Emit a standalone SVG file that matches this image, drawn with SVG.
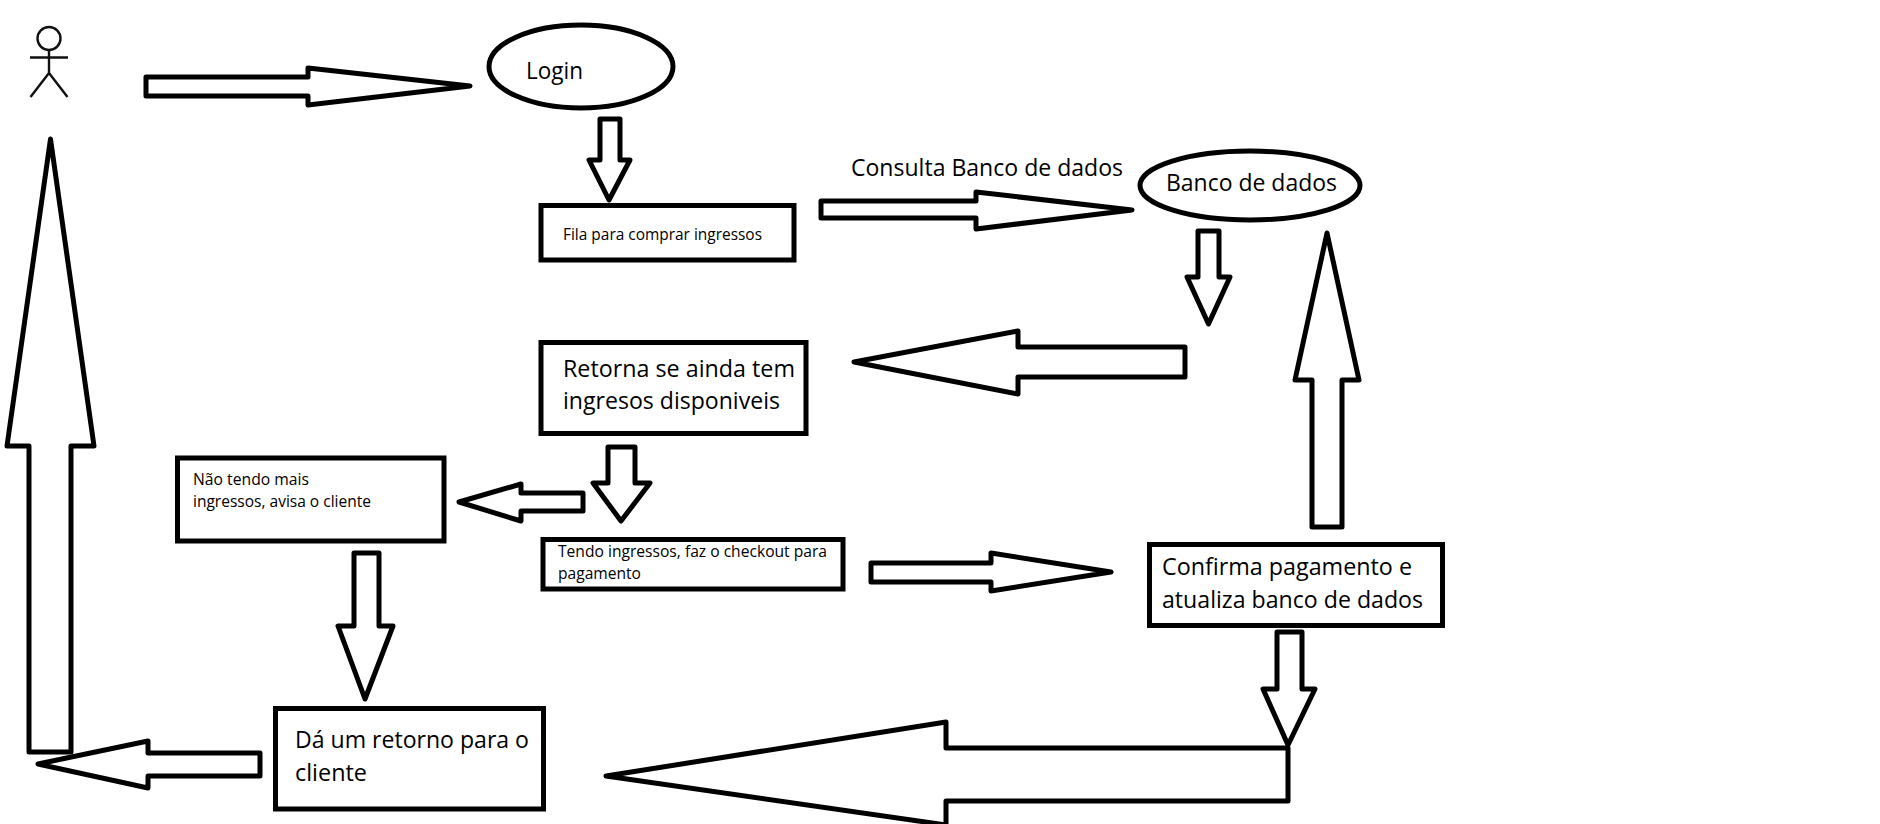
<svg xmlns="http://www.w3.org/2000/svg" width="1880" height="824" viewBox="0 0 1880 824">
<style>
.s{fill:none;stroke:#000;stroke-width:5}
.a{fill:none;stroke:#000;stroke-width:5;stroke-linejoin:round}
.st{fill:none;stroke:#111;stroke-width:2.4}
text{font-family:"Open Sans","Noto Sans","Liberation Sans",sans-serif;fill:#000}
.l{font-size:24.500px}
.m{font-size:16px}
</style>
<rect width="1880" height="824" fill="#fff"/>
<g id="connectors">
<polygon class="a" points="146,77 308,77 308,68 470,86 308,105 308,96 146,96"/>
<polygon class="a" points="600,119 620,119 620,160 630,160 609,200 589,160 600,160"/>
<polygon class="a" points="821,201 976,201 976,192 1132,210 976,229 976,218 821,218"/>
<polygon class="a" points="1198,231 1219,231 1219,277 1230,277 1208.500,324 1187,277 1198,277"/>
<polygon class="a" points="1185,347 1018,347 1018,331 854,362 1018,394 1018,377 1185,377"/>
<polygon class="a" points="1312,527 1312,380 1295,380 1327,233 1359,380 1342,380 1342,527"/>
<polygon class="a" points="608,447 635,447 635,483 650,483 621,521 593,483 608,483"/>
<polygon class="a" points="583,493 521,493 521,484 459,502 521,521 521,511 583,511"/>
<polygon class="a" points="871,563 991,563 991,553 1111,572 991,591 991,582 871,582"/>
<polygon class="a" points="354,553 379,553 379,626 393,626 365,699 338,626 354,626"/>
<polygon class="a" points="1277,632 1302,632 1302,689 1315,689 1288,745 1263,689 1277,689"/>
<polygon class="a" points="1288,748 946,748 946,722 606,776 946,825 946,801 1288,801"/>
<polygon class="a" points="260,753 148,753 148,741 38,764 148,788 148,776 260,776"/>
<polygon class="a" points="29,752 29,446 7,446 50.500,139 94,446 71,446 71,752"/>
</g>
<g id="actor">
<circle class="st" cx="49" cy="38.500" r="11.500"/>
<path class="st" d="M49 50V73M30 57.500H68M49 73L30.500 97M49 73L67.500 97"/>
</g>
<g id="login">
<ellipse class="s" cx="581" cy="66.500" rx="92" ry="41.500"/>
<text class="l" x="526" y="79" textLength="57" lengthAdjust="spacingAndGlyphs">Login</text>
</g>
<g id="fila">
<rect class="s" x="541" y="205.500" width="253" height="54.500"/>
<text class="m" x="563" y="240" textLength="199" lengthAdjust="spacingAndGlyphs">Fila para comprar ingressos</text>
</g>
<g id="consulta-label">
<text class="l" x="851" y="176" textLength="272" lengthAdjust="spacingAndGlyphs">Consulta Banco de dados</text>
</g>
<g id="banco">
<ellipse class="s" cx="1250" cy="185.500" rx="110" ry="34.500"/>
<text class="l" x="1166" y="191" textLength="171" lengthAdjust="spacingAndGlyphs">Banco de dados</text>
</g>
<g id="retorna">
<rect class="s" x="541" y="342.500" width="265" height="91"/>
<text class="l" x="563" y="377" textLength="232" lengthAdjust="spacingAndGlyphs">Retorna se ainda tem</text>
<text class="l" x="563" y="409" textLength="217" lengthAdjust="spacingAndGlyphs">ingresos disponiveis</text>
</g>
<g id="nao-tendo">
<rect class="s" x="177.500" y="458" width="266.500" height="83"/>
<text class="m" x="193" y="485" textLength="116" lengthAdjust="spacingAndGlyphs">Não tendo mais</text>
<text class="m" x="193" y="507" textLength="178" lengthAdjust="spacingAndGlyphs">ingressos, avisa o cliente</text>
</g>
<g id="tendo">
<rect class="s" x="543" y="539.500" width="300" height="49.500"/>
<text class="m" x="558" y="557" textLength="269" lengthAdjust="spacingAndGlyphs">Tendo ingressos, faz o checkout para</text>
<text class="m" x="558" y="579" textLength="83" lengthAdjust="spacingAndGlyphs">pagamento</text>
</g>
<g id="confirma">
<rect class="s" x="1149.500" y="544.500" width="293" height="81"/>
<text class="l" x="1162" y="575" textLength="250" lengthAdjust="spacingAndGlyphs">Confirma pagamento e</text>
<text class="l" x="1162" y="608" textLength="261" lengthAdjust="spacingAndGlyphs">atualiza banco de dados</text>
</g>
<g id="retorno">
<rect class="s" x="275.500" y="708.500" width="268" height="100.500"/>
<text class="l" x="295" y="748" textLength="234" lengthAdjust="spacingAndGlyphs">Dá um retorno para o</text>
<text class="l" x="295" y="781" textLength="72" lengthAdjust="spacingAndGlyphs">cliente</text>
</g>
</svg>
